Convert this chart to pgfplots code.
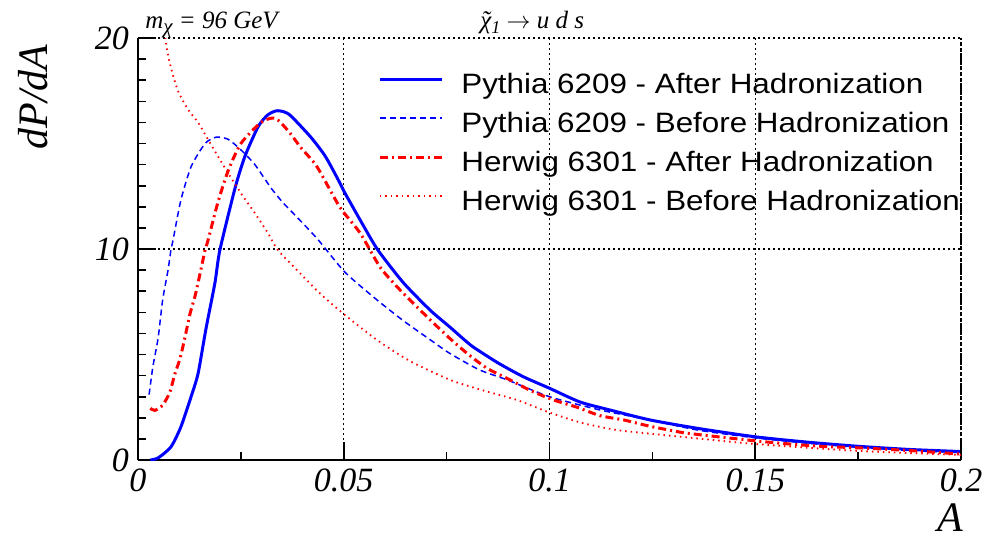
\documentclass[border=0pt]{standalone}
\usepackage{fontspec}
\setmainfont{Liberation Serif}
\newfontfamily\helv[FakeStretch=1.12]{Liberation Sans}
\usepackage{pgfplots}
\pgfplotsset{compat=1.18}
\definecolor{rblue}{RGB}{0,0,255}
\definecolor{rred}{RGB}{255,0,0}
\begin{document}
\begin{tikzpicture}
\begin{axis}[
 at={(0,0)}, anchor=south west,
 scale only axis, width=411.5pt, height=211pt,
 xmin=0, xmax=0.2, ymin=0, ymax=20,
 axis lines=left, axis line style={-, line width=1.3pt},
 xtick={0,0.05,0.1,0.15,0.2}, xticklabels={0,0.05,0.1,0.15,0.2},
 ytick={0,10,20}, yticklabels={0,10,20},
 minor x tick num=1, minor y tick num=9,
 major tick length=9pt, minor tick length=4pt,
 tick style={black, line width=0.8pt},
 tick align=inside,
 grid=major, grid style={black, line width=0.7pt, dash pattern=on 1pt off 1.5pt},
 ticklabel style={font=\fontsize{17}{17}\selectfont\itshape},
 /pgf/number format/assume math mode=true,
 xticklabel style={yshift=-1pt},
 yticklabel style={xshift=-1pt},
 legend style={draw=none, fill=none, at={(axis description cs:0.2916,0.919)}, anchor=north west,
   font=\helv\fontsize{14}{14}\selectfont, inner sep=0pt, row sep=6pt,
   nodes={inner sep=0pt, text height=10.5pt, text depth=3pt}},
 legend cell align=left,
 legend image code/.code={\draw[#1] (0pt,3.5pt) -- (31pt,3.5pt);},
 /tikz/every odd column/.append style={column sep=9pt},
]
\addplot[rblue, line width=1.5pt, smooth, tension=0.4] coordinates {
(0.003,0) (0.0049,0.1) (0.008,0.62) (0.0104,1.56) (0.0129,3.0) (0.0146,4.1) (0.0165,6.2) (0.0187,8.4) (0.0199,9.95) (0.0236,12.9) (0.026,14.4) (0.0292,15.8) (0.0315,16.35) (0.0336,16.55) (0.0355,16.5) (0.0372,16.3) (0.042,15.3) (0.0455,14.4) (0.0486,13.3) (0.0503,12.65) (0.0545,11.2) (0.0583,9.95) (0.0645,8.4) (0.071,7.1) (0.0758,6.3) (0.079,5.75) (0.0815,5.35) (0.0875,4.6) (0.0936,3.95) (0.100,3.4) (0.1074,2.75) (0.1147,2.37) (0.1244,1.9) (0.136,1.5) (0.150,1.1) (0.1625,0.85) (0.175,0.65) (0.1875,0.5) (0.2,0.4)
};
\addlegendentry{Pythia 6209 - After Hadronization}
\addplot[rblue, line width=0.75pt, dash pattern=on 3pt off 2pt, smooth, tension=0.4] coordinates {
(0.0027,3.1) (0.0036,4.4) (0.0049,5.8) (0.006,7.6) (0.0073,9.0) (0.008,9.95) (0.0085,10.4) (0.0104,12.3) (0.0129,13.9) (0.0163,15.0) (0.019,15.3) (0.0219,15.2) (0.025,14.7) (0.0284,14.0) (0.0323,12.9) (0.0352,12.2) (0.0372,11.8) (0.0435,10.5) (0.0503,8.9) (0.058,7.6) (0.0645,6.6) (0.071,5.7) (0.0758,5.05) (0.083,4.27) (0.0897,3.8) (0.100,3.0) (0.1123,2.37) (0.1244,1.9) (0.136,1.42) (0.150,1.05) (0.1625,0.8) (0.175,0.6) (0.1875,0.45) (0.2,0.35)
};
\addlegendentry{Pythia 6209 - Before Hadronization}
\addplot[rred, line width=1.5pt, dash pattern=on 4pt off 2pt on 1pt off 2pt, smooth, tension=0.4] coordinates {
(0.003,2.45) (0.0041,2.35) (0.006,2.6) (0.0077,3.2) (0.009,4.1) (0.0102,4.8) (0.0114,5.8) (0.0126,6.9) (0.0139,7.8) (0.0151,8.85) (0.0163,9.95) (0.017,10.4) (0.0194,12.2) (0.0219,13.7) (0.025,15.0) (0.0299,16.0) (0.0333,16.2) (0.0365,15.6) (0.0396,14.8) (0.0435,13.9) (0.049,12.0) (0.054,10.75) (0.0588,9.15) (0.063,8.2) (0.0678,7.25) (0.075,5.9) (0.080,5.05) (0.0848,4.35) (0.0904,3.8) (0.0953,3.3) (0.1009,2.85) (0.1067,2.5) (0.1123,2.1) (0.118,1.9) (0.1244,1.6) (0.1324,1.3) (0.141,1.1) (0.153,0.85) (0.165,0.66) (0.177,0.56) (0.189,0.43) (0.2,0.28)
};
\addlegendentry{Herwig 6301 - After Hadronization}
\addplot[rred, line width=0.9pt, dash pattern=on 0.75pt off 2pt, smooth, tension=0.4] coordinates {
(0.0062,20.8) (0.007,19.5) (0.008,18.6) (0.0097,17.5) (0.0122,16.6) (0.0146,16.0) (0.017,15.2) (0.0194,14.4) (0.0219,13.6) (0.025,12.65) (0.0284,11.7) (0.0316,10.75) (0.034,9.95) (0.0394,8.85) (0.0442,7.9) (0.0498,6.95) (0.058,5.7) (0.066,4.7) (0.0758,3.8) (0.0838,3.3) (0.092,2.85) (0.1,2.25) (0.108,1.75) (0.1164,1.42) (0.1244,1.25) (0.132,1.1) (0.150,0.76) (0.175,0.43) (0.2,0.24)
};
\addlegendentry{Herwig 6301 - Before Hadronization}
\end{axis}
\draw[black, line width=1.3pt, dash pattern=on 2pt off 1pt] (411.5pt,0pt) -- (411.5pt,211pt);
\node[rotate=90, font=\fontsize{21}{21}\selectfont\itshape] at (-52.5pt,181.5pt) {dP/dA};
\node[font=\fontsize{21}{21}\selectfont\itshape] at (406pt,-29pt) {A};
\node[anchor=base west, inner sep=0pt, font=\fontsize{12.5}{12.5}\selectfont\itshape] at (3.5pt,216pt) {m\raisebox{-0.5ex}{\fontsize{10.5}{10.5}\selectfont χ} = 96 GeV};
\node[anchor=base west, inner sep=0pt, font=\fontsize{12.5}{12.5}\selectfont\itshape] at (171pt,216pt) {\accent"02DC χ\raisebox{-0.45ex}{\fontsize{9}{9}\selectfont 1} $\rightarrow$ u d s};
\pgfresetboundingbox
\path[use as bounding box] (-69pt,-39pt) rectangle (424pt,230pt);
\end{tikzpicture}
\end{document}
